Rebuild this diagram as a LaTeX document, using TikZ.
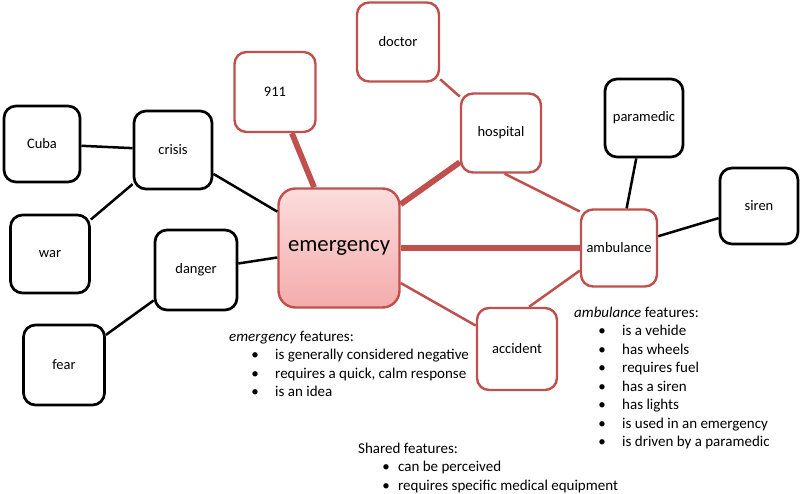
\documentclass[tikz,border=0pt]{standalone}
\usepackage{fontspec}
\setmainfont{Carlito}
\definecolor{accred}{HTML}{C0504D}
\definecolor{embtop}{RGB}{252,220,220}
\definecolor{embbot}{RGB}{244,172,172}
\newcommand\featitem[3]{\hspace*{#1}\makebox[0pt]{\textbullet}\hspace*{\dimexpr#2-#1\relax}#3}
\begin{document}
\begin{tikzpicture}[x=1pt,y=-1pt,
  bbox/.style 2 args={draw=black, line width=2.7pt, rounded corners=12pt, fill=white,
    minimum width=#1, minimum height=#2, inner sep=0pt, font=\fontsize{14.5}{17}\selectfont},
  rbox/.style 2 args={draw=accred, line width=2.4pt, rounded corners=12pt, fill=white,
    minimum width=#1, minimum height=#2, inner sep=0pt, font=\fontsize{14.5}{17}\selectfont},
  blink/.style={draw=black, line width=2.5pt},
  rthin/.style={draw=accred, line width=2.5pt},
  rthick/.style={draw=accred, line width=5.8pt},
  feat/.style={anchor=base west, inner sep=0pt, font=\fontsize{15}{18.5}\selectfont}]
\useasboundingbox (0,0) rectangle (800,494);
% nodes
\node[bbox={76pt}{76pt}] (cuba) at (42,144) {Cuba};
\node[bbox={78pt}{78pt}] (crisis) at (173,150) {crisis};
\node[bbox={79pt}{78pt}] (war) at (50,254) {war};
\node[bbox={82pt}{80pt}] (danger) at (196,270) {danger};
\node[bbox={81pt}{80pt}] (fear) at (64,365) {fear};
\node[rbox={81pt}{80pt}] (n911) at (275,92) {911};
\node[rbox={82pt}{79pt}] (doctor) at (398,42) {doctor};
\node[rbox={80pt}{79pt}] (hospital) at (501,133) {hospital};
\node[bbox={78pt}{78pt}] (paramedic) at (644,118) {paramedic};
\node[bbox={78pt}{76pt}] (siren) at (759,206) {siren};
\node[rbox={76pt}{77pt}] (ambulance) at (619,248) {ambulance};
\node[rbox={80pt}{82pt}] (accident) at (517,349) {accident};
\node[draw=accred, line width=2.4pt, rounded corners=17pt, top color=embtop, bottom color=embbot,
  minimum width=121pt, minimum height=119pt, inner sep=0pt,
  font=\fontsize{22.7}{26}\selectfont] (emergency) at (339,248) {emergency};
% connectors
\draw[blink] (cuba) -- (crisis);
\draw[blink] (crisis) -- (war);
\draw[blink] (crisis) -- (emergency);
\draw[blink] (danger) -- (emergency);
\draw[blink] (danger) -- (fear);
\draw[blink] (paramedic) -- (ambulance);
\draw[blink] (siren) -- (ambulance);
\draw[rthick] (n911) -- (emergency);
\draw[rthick] (hospital) -- (emergency);
\draw[rthick] (emergency) -- (ambulance);
\draw[rthin] (doctor) -- (hospital);
\draw[rthin] (emergency) -- (accident);
\draw[rthin] (hospital.-85) -- (ambulance.137);
\draw[rthin] (ambulance.210) -- (accident.74);
% feature lists
\node[feat] (emfeat) at (229,341) {\begin{tabular}[t]{@{}l@{}}
\textit{emergency} features:\\
\featitem{26pt}{46pt}{is generally considered negative}\\
\featitem{26pt}{46pt}{requires a quick, calm response}\\
\featitem{26pt}{46pt}{is an idea}
\end{tabular}};
\node[feat] (ambfeat) at (574,317) {\begin{tabular}[t]{@{}l@{}}
\textit{ambulance} features:\\
\featitem{28pt}{48pt}{is a vehide}\\
\featitem{28pt}{48pt}{has wheels}\\
\featitem{28pt}{48pt}{requires fuel}\\
\featitem{28pt}{48pt}{has a siren}\\
\featitem{28pt}{48pt}{has lights}\\
\featitem{28pt}{48pt}{is used in an emergency}\\
\featitem{28pt}{48pt}{is driven by a paramedic}
\end{tabular}};
\node[feat] (shfeat) at (358,453) {\begin{tabular}[t]{@{}l@{}}
Shared features:\\
\featitem{28pt}{40pt}{can be perceived}\\
\featitem{28pt}{40pt}{requires specific medical equipment}
\end{tabular}};
\end{tikzpicture}
\end{document}
